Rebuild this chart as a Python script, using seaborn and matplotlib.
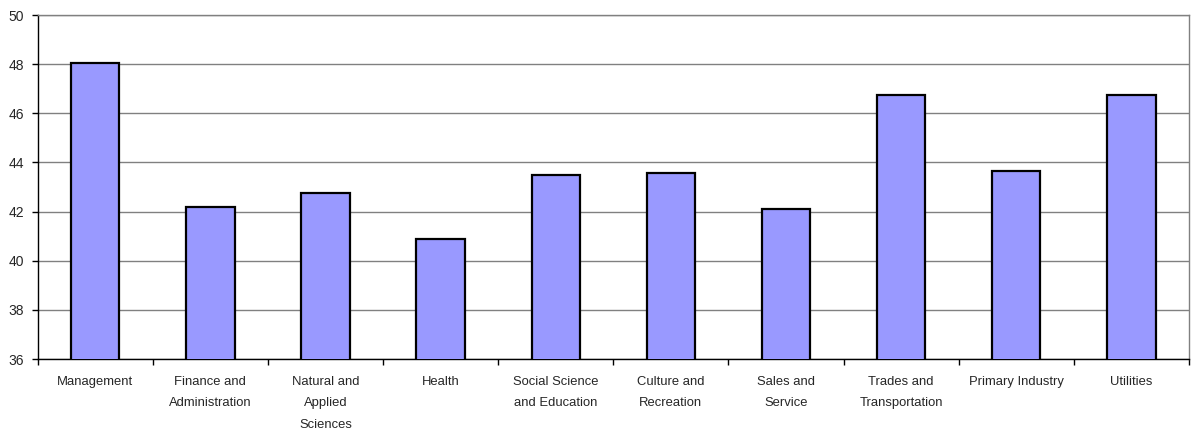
import numpy as np
import pandas as pd
import seaborn as sns
import matplotlib
matplotlib.use("Agg")
import matplotlib.pyplot as plt
from matplotlib.ticker import FixedLocator

categories = ["Management", "Finance and\nAdministration", "Natural and\nApplied\nSciences",
              "Health", "Social Science\nand Education", "Culture and\nRecreation",
              "Sales and\nService", "Trades and\nTransportation", "Primary Industry", "Utilities"]
values = [48.06, 42.19, 42.77, 40.9, 43.5, 43.58, 42.1, 46.74, 43.65, 46.74]
yticks = [36, 38, 40, 42, 44, 46, 48, 50]

df = pd.DataFrame({"category": categories, "value": values})

sns.set_style("white")
plt.rcParams['font.family'] = ['Liberation Sans', 'DejaVu Sans']

fig = plt.figure(figsize=(11.93, 4.34), dpi=100)
ax = fig.add_axes([0.0316, 0.1728, 0.965, 0.7926])

sns.barplot(data=df, x="category", y="value", color="#9999FF", saturation=1,
            width=0.42, edgecolor="black", linewidth=1.6, ax=ax, zorder=3)

ax.set_ylim(36, 50)
ax.set_xlim(-0.5, len(categories) - 0.5)
ax.set_yticks(yticks)
ax.yaxis.grid(True, color="#808080", linewidth=1.0, zorder=0)
ax.set_axisbelow(True)
ax.set_xlabel("")
ax.set_ylabel("")

for side in ["top", "right"]:
    ax.spines[side].set_color("#808080")
    ax.spines[side].set_linewidth(1.0)
for side in ["left", "bottom"]:
    ax.spines[side].set_color("black")
    ax.spines[side].set_linewidth(1.0)

ax.tick_params(axis="y", which="major", direction="out", length=4, width=1,
               color="black", labelsize=10, pad=6, left=True)
ax.tick_params(axis="x", which="major", length=0, labelsize=9.4, pad=12)
ax.xaxis.set_minor_locator(FixedLocator(np.arange(-0.5, len(categories), 1.0)))
ax.tick_params(axis="x", which="minor", direction="out", length=4, width=1,
               color="black", bottom=True)
for lab in ax.get_xticklabels():
    lab.set_linespacing(2.05)
    lab.set_verticalalignment("top")

fig.savefig("out.png", dpi=100)
